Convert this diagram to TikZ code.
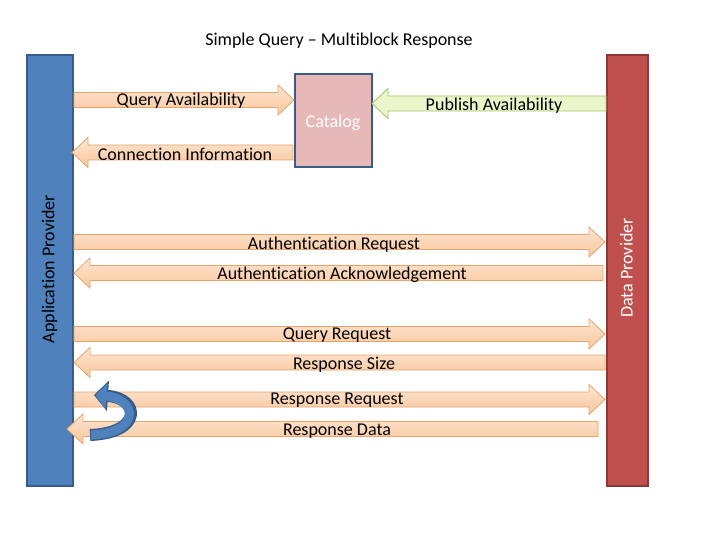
\documentclass[tikz,border=0pt]{standalone}
\usepackage{fontspec}
\setmainfont{Carlito}[Ligatures=NoCommon]
\usetikzlibrary{positioning,arrows.meta}
\definecolor{appblue}{HTML}{4F81BD}
\definecolor{appblueline}{HTML}{385D8A}
\definecolor{dpred}{HTML}{C0504D}
\definecolor{dpredline}{HTML}{8C3836}
\definecolor{catpink}{HTML}{E6B9B8}
\definecolor{peachtop}{HTML}{FDE6D3}
\definecolor{peachbot}{HTML}{FAC69C}
\definecolor{peachline}{HTML}{E5A46C}
\definecolor{pubgreen}{HTML}{EBF7CB}
\definecolor{publine}{HTML}{A4C463}

\tikzset{
  msg/.style={top color=peachtop,bottom color=peachbot,draw=peachline,line width=0.8pt},
  pub/.style={fill=pubgreen,draw=publine,line width=0.8pt},
  lbl/.style={font=\fontsize{18}{20}\selectfont,inner sep=0pt,yshift=-1.5pt},
  bar/.style={line width=2pt,minimum width=46pt,minimum height=431pt,inner sep=0pt}
}
% block arrow pointing right: tail x, tip x, centre y
\newcommand{\rightblock}[4][msg]{\draw[#1] (#2,#4-7.5)--(#3-16,#4-7.5)--(#3-16,#4-15)--(#3,#4)--(#3-16,#4+15)--(#3-16,#4+7.5)--(#2,#4+7.5)--cycle;}
% block arrow pointing left: tip x, tail x, centre y
\newcommand{\leftblock}[4][msg]{\draw[#1] (#2,#4)--(#2+16,#4-15)--(#2+16,#4-7.5)--(#3,#4-7.5)--(#3,#4+7.5)--(#2+16,#4+7.5)--(#2+16,#4+15)--cycle;}

\begin{document}
\begin{tikzpicture}[x=1pt,y=-1pt]
\useasboundingbox (0,0) rectangle (720,540);
\node[lbl] (title) at (339,39) {Simple Query -- Multiblock Response};

% the two parties
\node[bar,fill=appblue,draw=appblueline] (app) at (50,270.5) {};
\node[bar,fill=dpred,draw=dpredline,minimum width=41pt] (dp) at (627.5,270.5) {};
\node[lbl,rotate=90,yshift=1.5pt,xshift=1.5pt] (applbl) at (51,269) {Application Provider};
\node[lbl,rotate=90,text=white,yshift=1.5pt,xshift=1.5pt] (dplbl) at (628,268) {Data Provider};

% catalog
\node[fill=catpink,draw=appblueline,line width=2pt,minimum width=77pt,minimum height=93pt] (cat) at (333.5,120.5) {};
\node[lbl,text=white] (catlbl) at (333,121) {Catalog};

% messages
\rightblock{74}{294}{100}
\node[lbl] (qa) at (181,99) {Query Availability};
\leftblock{72}{293}{152.5}
\node[lbl] (ci) at (185,153) {Connection Information};
\leftblock[pub]{372}{606}{103.5}
\node[lbl] (pa) at (494,104) {Publish Availability};

\rightblock{74}{605}{242}
\node[lbl] (areq) at (334,243) {Authentication Request};
\leftblock{74}{603}{273}
\node[lbl] (aack) at (342,273) {Authentication Acknowledgement};
\rightblock{74}{605}{334}
\node[lbl] (qr) at (337,334) {Query Request};
\leftblock{74}{605}{362.5}
\node[lbl] (rs) at (344,363) {Response Size};
\rightblock{74}{605}{399.5}
\node[lbl] (rr) at (337,399) {Response Request};
\leftblock{67}{598}{429}
\node[lbl] (rd) at (337,430) {Response Data};

% loop back
\draw[appblueline,line width=12pt,-{Triangle[length=14pt,width=30pt]}] (90,435) .. controls (143,433) and (140,398) .. (94,395);
\draw[appblue,line width=9pt,-{Triangle[length=11pt,width=25pt]}] (91,435) .. controls (141,433) and (138,399) .. (95.5,395);
\end{tikzpicture}
\end{document}
